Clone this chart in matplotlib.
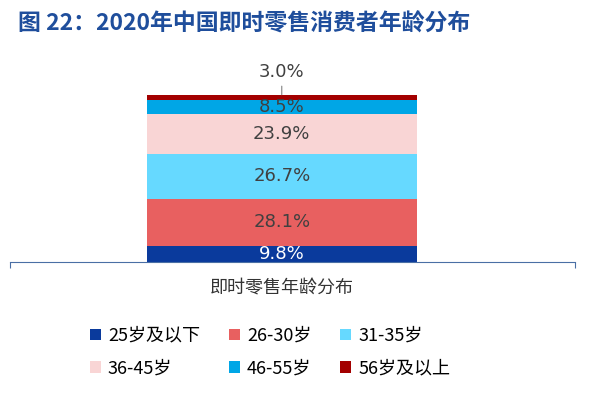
import matplotlib.pyplot as plt

plt.rcParams['font.family'] = ['Noto Sans CJK SC']

# data
groups = ['25岁及以下', '26-30岁', '31-35岁', '36-45岁', '46-55岁', '56岁及以上']
shares = [9.8, 28.1, 26.7, 23.9, 8.5, 3.0]
category = '即时零售年龄分布'
colors = ['#0a3a9c', '#e86060', '#66d9ff', '#f9d5d5', '#00a6e6', '#a30000']

fig = plt.figure(figsize=(6, 4), dpi=100)
fig.text(0.03, 0.94, '图 22：2020年中国即时零售消费者年龄分布', fontsize=16.5,
         fontweight='bold', color='#1f4e9c', va='center')

ax = fig.add_axes([10/600, 1-262/400, 565/600, 167/400])
x = 0.481
w = 0.478
bottom = 0
bars = []
for i, (g, v, c) in enumerate(zip(groups, shares, colors)):
    b = ax.bar(x, v, w, bottom=bottom, color=c, label=g)
    bars.append(b)
    tc = 'white' if i == 0 else '#404040'
    if v > 5:
        ax.text(x, bottom + v/2, f'{v:.1f}%', ha='center', va='center',
                fontsize=13, color=tc, fontfamily='DejaVu Sans')
    else:
        ax.annotate(f'{v:.1f}%', xy=(x, bottom + v/2), xytext=(x, 114),
                    ha='center', va='center', fontsize=13, color='#404040',
                    fontfamily='DejaVu Sans', annotation_clip=False,
                    arrowprops=dict(arrowstyle='-', color='#808080', lw=0.8))
    bottom += v

ax.set_xlim(0, 1)
ax.set_ylim(0, 100)
for s in ['top', 'right', 'left']:
    ax.spines[s].set_visible(False)
ax.spines['bottom'].set_color('#4a6fa5')
ax.set_yticks([])
ax.set_xticks([0, 1])
ax.set_xticklabels(['', ''])
ax.tick_params(axis='x', direction='out', length=4, color='#4a6fa5')
ax.text(x, -16, category, ha='center', va='center', fontsize=13, color='#333333')

# row-wise legend order
order = [0, 3, 1, 4, 2, 5]
fig.legend(handles=[bars[i][0] for i in order], labels=[groups[i] for i in order],
           ncol=3, loc='center', bbox_to_anchor=(0.45, 0.12), frameon=False,
           fontsize=13, handlelength=0.6, handleheight=0.6,
           columnspacing=1.6, handletextpad=0.4, labelspacing=0.8)

fig.savefig('out.png', dpi=100)
